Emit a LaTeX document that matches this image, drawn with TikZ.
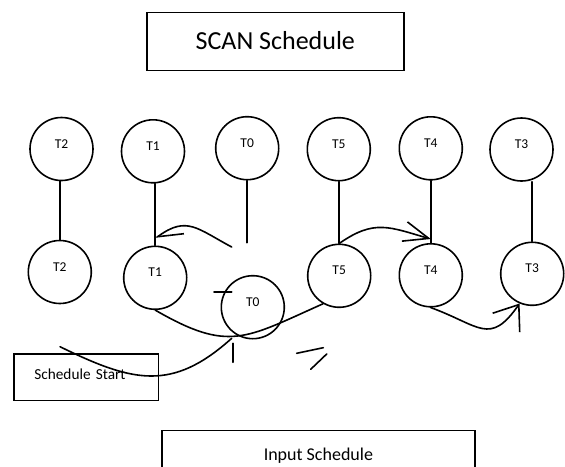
\documentclass[tikz,border=0pt]{standalone}
\usepackage{fontspec}
\setmainfont{Carlito}
\usetikzlibrary{arrows.meta}

\begin{document}
\begin{tikzpicture}[x=1pt,y=-1pt,line width=1.6pt,line cap=round,
    task/.style={circle,draw,minimum size=63pt,inner sep=0pt,
      font=\fontsize{13.5}{15}\selectfont,text height=8pt,text depth=10pt},
    panel/.style={draw,rectangle,inner sep=0pt},
  ]
  \useasboundingbox (0,0) rectangle (565,466);
  \clip (0,0) rectangle (565,466);

  % boxes
  \node[panel,minimum width=257pt,minimum height=58pt,text depth=3pt,
    font=\fontsize{26}{30}\selectfont] (scan) at (275.3,41.5) {SCAN Schedule};
  \node[panel,minimum width=144.3pt,minimum height=46.7pt,text width=103.7pt,
    align=left,inner xsep=20.3pt,text depth=6.6pt,
    font=\fontsize{15.3}{17}\selectfont] (start) at (86.2,377.3) {Schedule Start};
  \node[panel,minimum width=313.3pt,minimum height=51pt,
    font=\fontsize{18}{21}\selectfont] (input) at (318.4,456) {Input Schedule};

  % queue order
  \node[task] (T2-top) at (61.5,149) {T2};
  \node[task] (T1-top) at (153,151.3) {T1};
  \node[task] (T0-top) at (247.2,148.2) {T0};
  \node[task] (T5-top) at (338.8,149.2) {T5};
  \node[task] (T4-top) at (430.8,148.3) {T4};
  \node[task] (T3-top) at (521.5,149.5) {T3};

  % head moves
  \node[task] (T2-bot) at (59.8,272) {T2};
  \node[task] (T1-bot) at (155.2,277.8) {T1};
  \node[task] (T0-bot) at (252.8,307.2) {T0};
  \node[task] (T5-bot) at (339.2,275.8) {T5};
  \node[task] (T4-bot) at (430.8,275.3) {T4};
  \node[task] (T3-bot) at (532.2,273.8) {T3};

  \foreach \n in {T2,T1,T5,T4,T3}
    \draw (\n-bot.north |- \n-top.south) -- (\n-bot.north);
  \coordinate (T0-end) at (249,242.7);
  \draw (T0-top.south) -- (T0-top.south |- T0-end);

  \coordinate (back) at (231.7,247);
  \draw[-{Straight Barb[left,length=23pt,width=26pt]}] (back)
    to[out=152,in=36,looseness=1.3] ([yshift=7pt]T1-bot.north);
  \draw[-{Straight Barb[length=25pt,width=20pt]}] (T5-bot.north)
    to[out=35,in=164,looseness=1.2] ([yshift=4pt]T4-bot.north);
  \draw[-{Straight Barb[length=22pt,width=33pt]}] (T4-bot.south)
    to[out=-20,in=235,looseness=1.5] (T3-bot.247);
  \draw (T1-bot.south) to[out=-30,in=204,looseness=1.3] (T5-bot.240);

  \coordinate (s-in) at (60,346.7);
  \coordinate (s-out) at (231.7,338.3);
  \draw (s-in) to[out=-26,in=222,looseness=1.2] (s-out);

  % stray marks
  \draw (214,291.7) -- (231.7,291.7);
  \draw (232.7,343.3) -- (232.7,362.3);
  \draw (296.7,353.3) -- (323.3,347.7);
  \draw (326.7,354) -- (310.7,369.3);
\end{tikzpicture}
\end{document}
